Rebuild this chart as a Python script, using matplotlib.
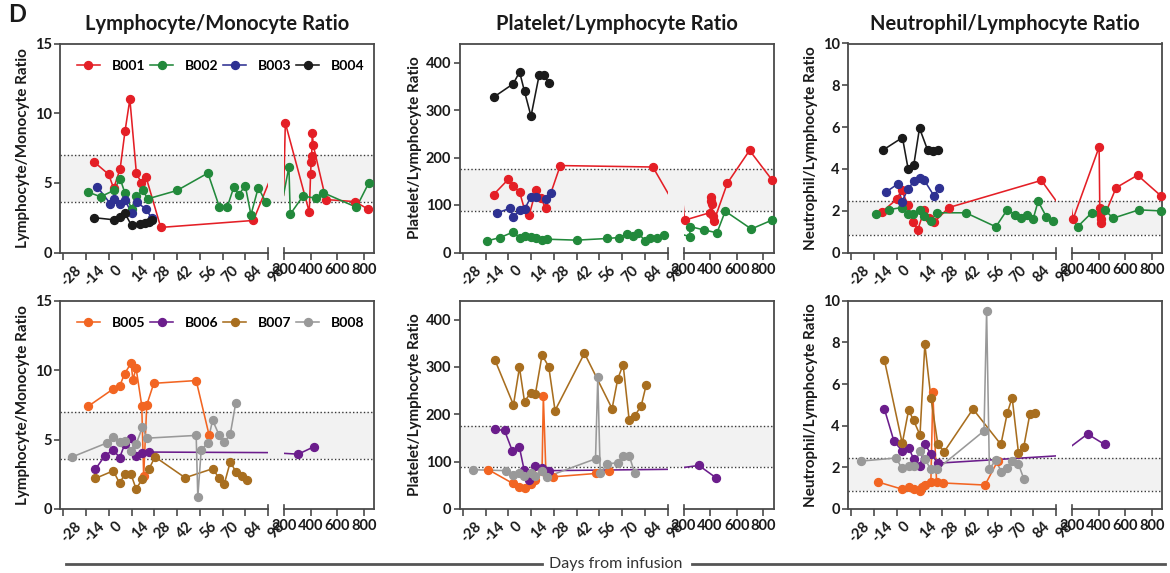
import matplotlib.pyplot as plt
from matplotlib.lines import Line2D
from matplotlib.transforms import ScaledTranslation
import numpy as np

plt.rcParams['font.family'] = ['Lato', 'DejaVu Sans']

# ---------------- data (days from infusion, ratio) ----------------
# points between day 98 and 200 fall inside the axis break and are not shown,
# they only give the direction of the line stubs at the break.

# Lymphocyte/Monocyte ratio, top row
lmr_b001_d = [-9, 0, 3, 7, 10, 13, 17, 20, 23, 32, 89, 104, 197, 210, 390, 400, 404, 408, 413, 420, 515, 735, 834]
lmr_b001_v = [6.5, 5.6, 4.6, 6.0, 8.7, 11.0, 5.7, 5.0, 5.4, 1.8, 2.3, 6.6, 4.1, 9.3, 2.9, 5.6, 6.5, 6.9, 8.6, 7.7, 3.8, 3.65, 3.1]
lmr_b002_d = [-13, -5, 3, 7, 10, 14, 17, 21, 24, 42, 61, 68, 73, 77, 80, 84, 87.5, 92, 96.5, 190, 237, 247, 343, 437, 493, 745, 838]
lmr_b002_v = [4.35, 4.0, 4.45, 5.3, 4.25, 3.15, 4.05, 4.45, 3.85, 4.45, 5.7, 3.3, 3.3, 4.7, 4.15, 4.8, 2.7, 4.65, 3.65, 3.8, 6.15, 2.75, 4.05, 3.9, 4.3, 3.25, 5.0]
lmr_b003_d = [-7, 1, 3, 7, 10, 14, 17.5, 23, 26.5]
lmr_b003_v = [4.7, 3.5, 3.85, 3.45, 3.75, 2.85, 3.6, 3.1, 2.45]
lmr_b004_d = [-9, 3, 7, 10, 14, 19, 22, 24.5, 26.5]
lmr_b004_v = [2.5, 2.35, 2.55, 2.8, 1.95, 2.05, 2.15, 2.2, 2.3]

# Platelet/Lymphocyte ratio, top row
plr_b001_d = [-9, 0, 3, 7, 10, 13, 17, 20, 23, 32, 89, 105, 195, 208, 400, 404, 410, 415, 420, 430, 530, 697, 868]
plr_b001_v = [122, 154, 140, 127, 91, 80, 131, 115, 93, 183, 180, 85, 109, 68, 84, 108, 116, 103, 76, 67, 146, 215, 152]
plr_b002_d = [-13, -5, 3, 7, 10, 14, 17, 21, 24, 42, 61, 68, 73, 76.5, 80, 84, 87, 91.5, 96, 190, 246, 251, 354, 452, 514, 710, 868]
plr_b002_v = [24.5, 31.5, 43, 31.5, 35, 33, 31, 26.5, 28, 26, 29.5, 31.5, 38.5, 35, 42, 24.5, 29.5, 30, 36.5, 38, 33.5, 54.5, 47.5, 41.5, 87, 49.5, 68.5]
plr_b003_d = [-7, 1, 3, 7, 10, 14, 17, 23, 26]
plr_b003_v = [83, 93, 75, 89, 91, 117, 116, 112, 125]
plr_b004_d = [-9, 3, 7, 10, 14, 19, 22, 25]
plr_b004_v = [327, 355, 380, 339, 287, 373, 373, 357]

# Neutrophil/Lymphocyte ratio, top row
nlr_b001_d = [-9, 0, 3, 7, 10, 13, 17, 20, 23, 32, 89, 105, 190, 208, 404, 409, 412, 415, 420, 532, 693, 871]
nlr_b001_v = [1.95, 2.55, 3.0, 2.25, 1.45, 1.1, 2.05, 1.65, 1.45, 2.15, 3.45, 1.72, 2.3, 1.6, 5.05, 2.15, 1.85, 1.6, 1.4, 3.1, 3.7, 2.7]
nlr_b002_d = [-13, -5, 3, 7, 10, 14, 17, 21, 24.5, 42.5, 61, 68, 73, 76.5, 80, 84, 87, 92, 96, 190, 243, 348, 448, 509, 703, 871]
nlr_b002_v = [1.85, 2.05, 2.15, 1.85, 1.85, 2.05, 1.75, 1.5, 1.9, 1.9, 1.23, 2.05, 1.8, 1.67, 1.78, 1.62, 2.45, 1.72, 1.52, 1.68, 1.24, 1.9, 2.03, 1.64, 2.04, 1.99]
nlr_b003_d = [-6.5, 1, 3, 7, 10.5, 14, 17, 23, 26]
nlr_b003_v = [2.9, 3.3, 2.4, 3.05, 3.4, 3.55, 3.45, 2.7, 3.1]
nlr_b004_d = [-8.5, 3.5, 7, 10.5, 14, 19, 22.5, 25.5]
nlr_b004_v = [4.9, 5.5, 4.0, 4.2, 5.95, 4.9, 4.85, 4.9]

# Lymphocyte/Monocyte ratio, bottom row
lmr_b005_d = [-12.6, 2.8, 6.7, 9.8, 13.7, 14.9, 16.8, 20.3, 21.5, 23.4, 27.7, 53.8, 61.8]
lmr_b005_v = [7.4, 8.65, 8.85, 9.75, 10.5, 9.3, 10.15, 7.45, 2.35, 7.5, 9.05, 9.25, 5.3]
lmr_b006_d = [-8.3, -2.3, 2.8, 6.7, 9.8, 13.7, 16.8, 20.3, 24.8, 307, 429]
lmr_b006_v = [2.85, 3.85, 4.25, 3.7, 4.65, 5.1, 3.85, 4.0, 4.1, 3.95, 4.5]
lmr_b007_d = [-8.3, 2.8, 6.7, 9.8, 13.7, 16.8, 20.7, 24.8, 28.5, 47, 63.9, 67.8, 71.1, 74.8, 78.1, 82, 85.1]
lmr_b007_v = [2.2, 2.75, 1.85, 2.5, 2.5, 1.45, 2.15, 2.9, 3.75, 2.25, 2.9, 2.25, 1.8, 3.4, 2.7, 2.4, 2.1]
lmr_b008_d = [-22.5, -1.3, 2.8, 6.7, 9.8, 13.7, 16.8, 20.7, 23.4, 53.8, 54.8, 56.9, 60.8, 63.9, 67.8, 71.1, 74.8, 78.1]
lmr_b008_v = [3.75, 4.75, 5.15, 4.85, 4.9, 4.2, 4.65, 5.9, 5.1, 5.3, 0.85, 4.25, 4.75, 6.4, 5.35, 4.8, 5.4, 7.6]

# Platelet/Lymphocyte ratio, bottom row
plr_b005_d = [-12.2, 2.8, 6.9, 10, 13.9, 14.7, 16.7, 20.8, 21.6, 23.2, 27.8, 53.7, 61.9]
plr_b005_v = [83, 54, 47, 44, 53, 73, 61, 81, 238, 75, 68, 75, 81]
plr_b006_d = [-8.1, -2.3, 2.6, 6.9, 9.8, 12.8, 16.7, 21, 24.9, 316, 444]
plr_b006_v = [168, 166, 122, 130, 82, 62, 91, 87, 81, 92, 66]
plr_b007_d = [-8.1, 3.2, 6.9, 10, 13.9, 16.7, 20.8, 24.9, 28.8, 46.9, 63.9, 67.4, 70.7, 74.4, 77.9, 81.8, 84.9]
plr_b007_v = [314, 220, 299, 227, 246, 243, 325, 301, 208, 329, 212, 275, 305, 188, 197, 218, 262]
plr_b008_d = [-22, -1.3, 2.8, 6.9, 9.8, 13.9, 16.7, 20.8, 23.7, 53.7, 55.1, 56.6, 60.7, 67.4, 70.5, 74.6, 77.7]
plr_b008_v = [83, 81, 72, 77, 70, 77, 70, 81, 68, 106, 278, 75, 95, 98, 113, 111, 77]

# Neutrophil/Lymphocyte ratio, bottom row
nlr_b005_d = [-11.7, 3.4, 7.3, 10.4, 14.3, 15.3, 17.3, 21, 22.2, 24.5, 28.4, 54.3, 62.1]
nlr_b005_v = [1.3, 0.95, 1.05, 0.95, 0.85, 1.05, 1.15, 1.3, 5.6, 1.3, 1.25, 1.15, 2.3]
nlr_b006_d = [-7.6, -1.7, 3.2, 7.3, 10.4, 14.3, 17.3, 21, 25.3, 317, 445]
nlr_b006_v = [4.8, 3.25, 2.8, 2.95, 2.4, 2.05, 3.1, 2.65, 2.2, 3.6, 3.1]
nlr_b007_d = [-7.6, 3.4, 7.3, 10.4, 14.3, 17.3, 21, 25.3, 29.2, 46.9, 64.1, 68, 71, 74.9, 78.2, 81.9, 84.9]
nlr_b007_v = [7.15, 3.15, 4.75, 4.25, 3.55, 7.9, 5.35, 3.1, 2.75, 4.8, 3.1, 4.6, 5.35, 2.7, 3.0, 4.55, 4.6]
nlr_b008_d = [-21.9, -0.4, 3.2, 7.3, 10.4, 14.3, 17.3, 21, 24.7, 53.7, 55.3, 57, 60.8, 64.3, 68, 71, 74.9, 78.2]
nlr_b008_v = [2.3, 2.45, 1.95, 2.05, 2.05, 2.8, 2.4, 1.9, 1.9, 3.75, 9.5, 1.9, 2.35, 1.8, 1.95, 2.3, 2.15, 1.45]

# normal ranges (shaded)
lmr_band = (3.6, 7.0)
plr_band = (88, 176)
nlr_band = (0.86, 2.45)

colors = {'B001': '#e41f26', 'B002': '#22893b', 'B003': '#2e3192', 'B004': '#1a1a1a',
          'B005': '#f26522', 'B006': '#6b1d8c', 'B007': '#a86e1f', 'B008': '#999999'}

left_ticks = list(range(-28, 99, 14))
right_ticks = [200, 400, 600, 800]

# ---------------- layout ----------------
W, H = 1170, 573
fig = plt.figure(figsize=(W / 100, H / 100), dpi=100)

SEG_L, GAP, SEG_R = 208, 16, 90
LEFT_LIM = (-30, 98)
RIGHT_LIM = (200, 877)
EDGE = '#4a4a4a'
TXT = '#1a1a1a'


def box(x, top, bottom, w):
    return [x / W, 1 - bottom / H, w / W, (bottom - top) / H]


def panel(x0, top, bottom, series, ylim, yticks, band, ylabel, title=None, legend=False):
    h = bottom - top
    bg = fig.add_axes(box(x0, top, bottom, SEG_L + GAP + SEG_R))
    bg.set_xlim(0, 1)
    bg.set_xticks([])
    bg.set_ylim(*ylim)
    bg.set_yticks(yticks)
    bg.spines['bottom'].set_visible(False)
    for s in ('left', 'top', 'right'):
        bg.spines[s].set_color(EDGE)
        bg.spines[s].set_linewidth(1.3)
    bg.tick_params(axis='y', direction='out', length=4.5, width=1.2, color=EDGE,
                   labelsize=10.5, pad=1.5, labelcolor=TXT)
    for lab in bg.get_yticklabels():
        lab.set_fontweight('bold')
    bg.axhspan(band[0], band[1], color='#f2f2f2', lw=0, zorder=0)
    for yb in band:
        bg.axhline(yb, color='#3a3a3a', lw=1.0, ls=(0, (1, 1.6)), zorder=1)
    bg.set_ylabel(ylabel, fontsize=11, fontweight='bold', labelpad=3, color=TXT)
    if title:
        bg.set_title(title, fontsize=14.5, fontweight='bold', pad=10, color=TXT)

    axl = fig.add_axes(box(x0, top, bottom, SEG_L))
    axr = fig.add_axes(box(x0 + SEG_L + GAP, top, bottom, SEG_R))
    for ax, lim, ticks, cap in ((axl, LEFT_LIM, left_ticks, 98), (axr, RIGHT_LIM, right_ticks, 200)):
        ax.set_facecolor('none')
        for s in ('left', 'top', 'right'):
            ax.spines[s].set_visible(False)
        ax.spines['bottom'].set_color(EDGE)
        ax.spines['bottom'].set_linewidth(1.3)
        ax.set_xlim(*lim)
        ax.set_ylim(*ylim)
        ax.set_yticks([])
        ax.set_xticks(ticks, labels=[str(t) for t in ticks])
        ax.tick_params(axis='x', direction='out', length=5, width=1.2, color=EDGE,
                       labelsize=10.5, pad=2.5, labelcolor=TXT)
        ax.plot([cap, cap], [0, 4.5 / h], transform=ax.get_xaxis_transform(),
                color=EDGE, lw=1.2, clip_on=False)
        for name, (d, v) in series.items():
            d = np.asarray(d, float)
            v = np.asarray(v, float)
            ax.plot(d, v, color=colors[name], lw=1.15, zorder=2)
            m = (d >= lim[0]) & (d <= lim[1])
            ax.plot(d[m], v[m], 'o', color=colors[name], ms=5.7, zorder=3, clip_on=False)
    off = ScaledTranslation(6 / 72, 0, fig.dpi_scale_trans)
    for lab in axl.get_xticklabels():
        lab.set_rotation(45)
        lab.set_ha('center')
        lab.set_fontweight('bold')
        lab.set_transform(lab.get_transform() + off)
    for lab in axr.get_xticklabels():
        lab.set_fontweight('bold')

    if legend:
        handles = [Line2D([], [], color=colors[n], marker='o', lw=1.15, ms=5.7) for n in series]
        bg.legend(handles, list(series), ncol=4, frameon=False, loc='center left',
                  bbox_to_anchor=(17 / 314, 1 - 22 / h), borderaxespad=0, borderpad=0,
                  handlelength=1.65, handletextpad=0.85, columnspacing=0.35,
                  prop={'size': 10, 'weight': 'bold'})


cols = [60, 459.5, 848]
rows = [(43.5, 252.5), (300.7, 509)]
names = ['Lymphocyte/Monocyte Ratio', 'Platelet/Lymphocyte Ratio', 'Neutrophil/Lymphocyte Ratio']
ylims = [(0, 15), (0, 440), (0, 10)]
yticks = [[0, 5, 10, 15], [0, 100, 200, 300, 400], [0, 2, 4, 6, 8, 10]]
bands = [lmr_band, plr_band, nlr_band]

top_series = [
    {'B001': (lmr_b001_d, lmr_b001_v), 'B002': (lmr_b002_d, lmr_b002_v),
     'B003': (lmr_b003_d, lmr_b003_v), 'B004': (lmr_b004_d, lmr_b004_v)},
    {'B001': (plr_b001_d, plr_b001_v), 'B002': (plr_b002_d, plr_b002_v),
     'B003': (plr_b003_d, plr_b003_v), 'B004': (plr_b004_d, plr_b004_v)},
    {'B001': (nlr_b001_d, nlr_b001_v), 'B002': (nlr_b002_d, nlr_b002_v),
     'B003': (nlr_b003_d, nlr_b003_v), 'B004': (nlr_b004_d, nlr_b004_v)},
]
bottom_series = [
    {'B005': (lmr_b005_d, lmr_b005_v), 'B006': (lmr_b006_d, lmr_b006_v),
     'B007': (lmr_b007_d, lmr_b007_v), 'B008': (lmr_b008_d, lmr_b008_v)},
    {'B005': (plr_b005_d, plr_b005_v), 'B006': (plr_b006_d, plr_b006_v),
     'B007': (plr_b007_d, plr_b007_v), 'B008': (plr_b008_d, plr_b008_v)},
    {'B005': (nlr_b005_d, nlr_b005_v), 'B006': (nlr_b006_d, nlr_b006_v),
     'B007': (nlr_b007_d, nlr_b007_v), 'B008': (nlr_b008_d, nlr_b008_v)},
]

for i in range(3):
    panel(cols[i], *rows[0], top_series[i], ylims[i], yticks[i], bands[i], names[i],
          title=names[i], legend=(i == 0))
    panel(cols[i], *rows[1], bottom_series[i], ylims[i], yticks[i], bands[i], names[i],
          legend=(i == 0))

fig.text(8 / W, 1 - 22 / H, 'D', fontsize=17, fontweight='bold', ha='left', va='baseline', color=TXT)
fig.text(616 / W, 1 - 564 / H, 'Days from infusion', fontsize=11.5, ha='center', va='center', color='#333333')
fig.add_artist(Line2D([66 / W, 542 / W], [1 - 564 / H] * 2, color='#555555', lw=2))
fig.add_artist(Line2D([692 / W, 1165 / W], [1 - 564 / H] * 2, color='#555555', lw=2))

fig.savefig('out.png', dpi=100)
